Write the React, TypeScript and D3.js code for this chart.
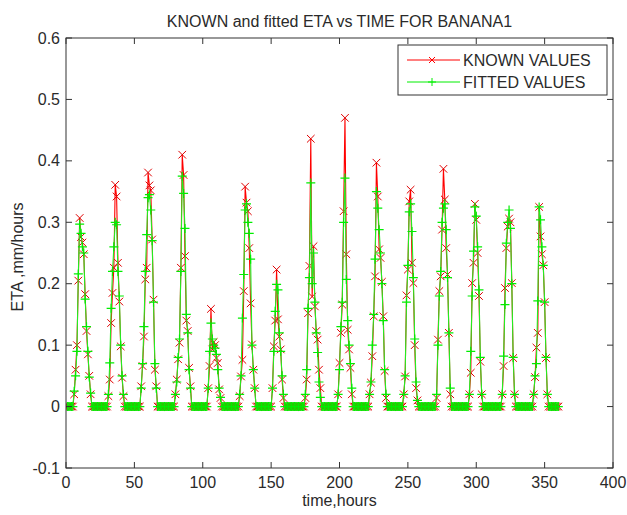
import * as d3 from 'd3';
import React from 'react';

// ETA per hour, one row per day (24 hours each)
const knownByDay: number[][] = [
  [0,0,0,0,0,0.02,0.06,0.10,0.205,0.307,0.276,0.267,0.248,0.183,0.123,0.085,0.05,0.02,0,0,0,0,0,0],
  [0,0,0,0,0,0,0.017,0.044,0.136,0.185,0.226,0.361,0.342,0.234,0.171,0.098,0.047,0.017,0,0,0,0,0,0],
  [0,0,0,0,0,0,0.033,0.066,0.114,0.207,0.226,0.381,0.36,0.352,0.272,0.174,0.06,0.033,0,0,0,0,0,0],
  [0,0,0,0,0,0,0,0.02,0.044,0.077,0.104,0.226,0.41,0.377,0.245,0.14,0.123,0.063,0.033,0,0,0,0,0],
  [0,0,0,0,0,0,0,0.03,0.066,0.159,0.093,0.105,0.10,0.079,0.071,0.028,0.014,0,0,0,0,0,0,0],
  [0,0,0,0,0,0,0.017,0.049,0.076,0.188,0.358,0.332,0.318,0.258,0.168,0.101,0.06,0.03,0,0,0,0,0,0],
  [0,0,0,0,0,0,0.03,0.098,0.14,0.223,0.142,0.114,0.093,0.044,0.014,0,0,0,0,0,0,0,0,0],
  [0,0,0,0,0,0,0.014,0.044,0.152,0.229,0.436,0.179,0.261,0.163,0.123,0.109,0.06,0.03,0,0,0,0,0,0],
  [0,0,0,0,0,0,0.02,0.071,0.12,0.166,0.318,0.47,0.248,0.125,0.093,0.063,0.02,0,0,0,0,0,0,0],
  [0,0,0,0,0,0.02,0.039,0.082,0.147,0.212,0.397,0.342,0.256,0.242,0.203,0.147,0.058,0.014,0,0,0,0,0,0],
  [0,0,0,0,0,0,0.02,0.049,0.181,0.223,0.334,0.353,0.234,0.201,0.10,0.03,0.01,0,0,0,0,0,0,0],
  [0,0,0,0,0,0,0.014,0.109,0.188,0.212,0.288,0.387,0.337,0.258,0.215,0.12,0.02,0,0,0,0,0,0,0],
  [0,0,0,0,0,0,0.02,0.055,0.201,0.234,0.33,0.304,0.25,0.18,0.073,0.02,0,0,0,0,0,0,0,0],
  [0,0,0,0,0,0,0.02,0.066,0.193,0.258,0.293,0.306,0.30,0.201,0.079,0.02,0,0,0,0,0,0,0,0],
  [0,0,0,0,0,0.02,0.048,0.096,0.12,0.325,0.277,0.248,0.23,0.17,0.079,0.02,0,0,0,0,0,0,0,0],
];

const fittedByDay: number[][] = [
  [0,0,0,0,0,0.025,0.05,0.09,0.216,0.297,0.282,0.26,0.25,0.175,0.13,0.09,0.048,0.022,0,0,0,0,0,0],
  [0,0,0,0,0,0,0.02,0.071,0.16,0.22,0.26,0.30,0.296,0.22,0.18,0.10,0.05,0.02,0,0,0,0,0,0],
  [0,0,0,0,0,0,0.03,0.07,0.13,0.22,0.28,0.34,0.345,0.32,0.27,0.17,0.07,0.03,0,0,0,0,0,0],
  [0,0,0,0,0,0,0,0.02,0.04,0.08,0.11,0.22,0.375,0.347,0.29,0.15,0.12,0.06,0.03,0,0,0,0,0],
  [0,0,0,0,0,0,0,0.03,0.09,0.136,0.11,0.10,0.095,0.085,0.06,0.03,0.015,0,0,0,0,0,0,0],
  [0,0,0,0,0,0,0.02,0.05,0.144,0.215,0.32,0.33,0.30,0.282,0.24,0.10,0.06,0.03,0,0,0,0,0,0],
  [0,0,0,0,0,0,0.03,0.09,0.155,0.199,0.19,0.12,0.09,0.05,0.02,0,0,0,0,0,0,0,0,0],
  [0,0,0,0,0,0,0.02,0.06,0.16,0.21,0.364,0.20,0.25,0.17,0.12,0.088,0.04,0.015,0,0,0,0,0,0],
  [0,0,0,0,0,0,0.02,0.06,0.13,0.17,0.30,0.372,0.207,0.14,0.10,0.07,0.03,0,0,0,0,0,0,0],
  [0,0,0,0,0,0.02,0.04,0.10,0.15,0.24,0.35,0.323,0.288,0.25,0.20,0.14,0.06,0.02,0,0,0,0,0,0],
  [0,0,0,0,0,0,0.02,0.05,0.17,0.23,0.317,0.33,0.285,0.21,0.11,0.04,0.01,0,0,0,0,0,0,0],
  [0,0,0,0,0,0,0.02,0.10,0.18,0.22,0.30,0.323,0.33,0.288,0.21,0.12,0.03,0,0,0,0,0,0,0],
  [0,0,0,0,0,0,0.02,0.09,0.18,0.253,0.325,0.31,0.26,0.19,0.08,0.02,0,0,0,0,0,0,0,0],
  [0,0,0,0,0,0,0.02,0.082,0.166,0.266,0.30,0.32,0.29,0.20,0.08,0.02,0,0,0,0,0,0,0,0],
  [0,0,0,0,0,0.02,0.05,0.07,0.172,0.325,0.304,0.26,0.23,0.17,0.08,0.02,0,0,0,0,0,0,0,0],
];

const xTicks = [0, 50, 100, 150, 200, 250, 300, 350, 400];
const yTicks = [-0.1, 0, 0.1, 0.2, 0.3, 0.4, 0.5, 0.6];
const yTickLabels = ['-0.1', '0', '0.1', '0.2', '0.3', '0.4', '0.5', '0.6'];

const W = 627, H = 515;
const plot = { left: 66, right: 613, top: 38, bottom: 468 };
const font = '"Liberation Sans", Arial, sans-serif';
const textColor = '#2a2a2a';
const frameColor = '#333';

// flattens day rows into (hour, value) points, hour counted from 1
const toPoints = (rows: number[][]) =>
  rows.flatMap((row, d) => row.map((v, i) => ({ t: d * 24 + i + 1, v })));

function App() {
  const x = d3.scaleLinear().domain([0, 400]).range([plot.left, plot.right]);
  const y = d3.scaleLinear().domain([-0.1, 0.6]).range([plot.bottom, plot.top]);

  const known = toPoints(knownByDay);
  const fitted = toPoints(fittedByDay);

  const line = d3.line<{ t: number; v: number }>()
    .x(d => x(d.t))
    .y(d => y(d.v));

  const xMarks = (pts: { t: number; v: number }[], s: number) =>
    pts.map(p => {
      const cx = x(p.t), cy = y(p.v);
      return `M${cx - s},${cy - s}L${cx + s},${cy + s}M${cx - s},${cy + s}L${cx + s},${cy - s}`;
    }).join('');

  const plusMarks = (pts: { t: number; v: number }[], s: number) =>
    pts.map(p => {
      const cx = x(p.t), cy = y(p.v);
      return `M${cx - s},${cy}H${cx + s}M${cx},${cy - s}V${cy + s}`;
    }).join('');

  const tickLen = 6;
  const midX = (plot.left + plot.right) / 2;

  // legend placement
  const lg = { x: 398, y: 45, w: 209, h: 50 };
  const rowY = [60, 82];

  return (
    <svg width={W} height={H} style={{ position: 'absolute', left: 0, top: 0, background: '#fff' }}
      fontFamily={font}>
      <rect x={0} y={0} width={W} height={H} fill="#fff" />

      <defs>
        <clipPath id="plotClip">
          <rect x={plot.left} y={plot.top} width={plot.right - plot.left} height={plot.bottom - plot.top} />
        </clipPath>
      </defs>

      {/* series */}
      <g clipPath="url(#plotClip)">
        <path d={line(known) || ''} fill="none" stroke="#ff0000" strokeWidth={1.1} />
        <path d={xMarks(known, 3.8)} fill="none" stroke="#e00000" strokeWidth={1} />
        <path d={line(fitted) || ''} fill="none" stroke="#22ee22" strokeWidth={1.1} />
        <path d={plusMarks(fitted, 4.5)} fill="none" stroke="#00ee00" strokeWidth={1.2} />
      </g>

      {/* frame and ticks */}
      <rect x={plot.left} y={plot.top} width={plot.right - plot.left} height={plot.bottom - plot.top}
        fill="none" stroke={frameColor} strokeWidth={1} />
      {xTicks.map(t => (
        <g key={'xt' + t} stroke={frameColor}>
          <line x1={x(t)} x2={x(t)} y1={plot.bottom} y2={plot.bottom - tickLen} />
          <line x1={x(t)} x2={x(t)} y1={plot.top} y2={plot.top + tickLen} />
        </g>
      ))}
      {yTicks.map(t => (
        <g key={'yt' + t} stroke={frameColor}>
          <line x1={plot.left} x2={plot.left + tickLen} y1={y(t)} y2={y(t)} />
          <line x1={plot.right} x2={plot.right - tickLen} y1={y(t)} y2={y(t)} />
        </g>
      ))}

      {/* tick labels */}
      {xTicks.map(t => (
        <text key={'xl' + t} x={x(t)} y={488} textAnchor="middle" fontSize={16} fill={textColor}>{t}</text>
      ))}
      {yTicks.map((t, i) => (
        <text key={'yl' + t} x={plot.left - 6} y={y(t) + 5.5} textAnchor="end" fontSize={16} fill={textColor}>
          {yTickLabels[i]}
        </text>
      ))}

      {/* titles */}
      <text x={midX} y={27} textAnchor="middle" fontSize={16} fill={textColor}>
        KNOWN and fitted ETA vs TIME FOR BANANA1
      </text>
      <text x={midX} y={506} textAnchor="middle" fontSize={16} fill={textColor}>time,hours</text>
      <text transform={`translate(23,${(plot.top + plot.bottom) / 2 + 4}) rotate(-90)`} textAnchor="middle"
        fontSize={16} fill={textColor}>ETA ,mm/hours</text>

      {/* legend */}
      <rect x={lg.x} y={lg.y} width={lg.w} height={lg.h} fill="#fff" stroke={frameColor} strokeWidth={1} />
      <line x1={407} x2={460} y1={rowY[0]} y2={rowY[0]} stroke="#ff0000" />
      <path d={`M429,${rowY[0] - 3}L435,${rowY[0] + 3}M429,${rowY[0] + 3}L435,${rowY[0] - 3}`} stroke="#ff0000" />
      <text x={463} y={rowY[0] + 6} fontSize={16} fill={textColor}>KNOWN VALUES</text>
      <line x1={407} x2={460} y1={rowY[1]} y2={rowY[1]} stroke="#00ee00" />
      <path d={`M428,${rowY[1]}H436M432,${rowY[1] - 4}V${rowY[1] + 4}`} stroke="#00ee00" />
      <text x={463} y={rowY[1] + 6} fontSize={16} fill={textColor}>FITTED VALUES</text>
    </svg>
  );
}

export default App;
